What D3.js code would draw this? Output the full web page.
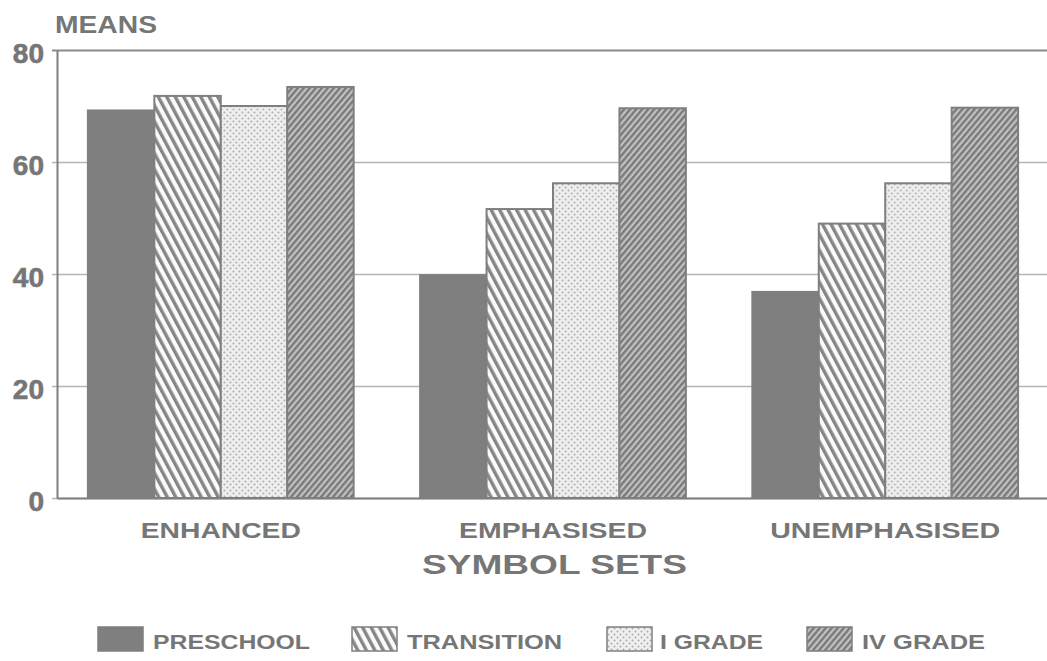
<!DOCTYPE html>
<html>
<head>
<meta charset="utf-8">
<script src="https://cdn.jsdelivr.net/npm/d3@7"></script>
<style>
  html, body { margin: 0; padding: 0; background: #fff; }
  svg { display: block; }
  text { font-family: "Liberation Sans", Arial, Helvetica, sans-serif; font-weight: bold; fill: #767676; }
</style>
</head>
<body>
<svg id="chart" width="1047" height="661"></svg>
<script>
// ---- data ----
const categories = ["ENHANCED", "EMPHASISED", "UNEMPHASISED"];
const series = ["PRESCHOOL", "TRANSITION", "I GRADE", "IV GRADE"];
const preschool  = [69.2, 39.8, 36.8];
const transition = [71.8, 51.6, 49.0];
const iGrade     = [70.0, 56.2, 56.2];
const ivGrade    = [73.4, 69.6, 69.7];
const yTicks = [0, 20, 40, 60, 80];
const yTitle = "MEANS";
const xTitle = "SYMBOL SETS";

const seriesValues = [preschool, transition, iGrade, ivGrade];

// ---- layout ----
const plot = { left: 57, right: 1049, top: 50, bottom: 498 };
const svg = d3.select("#chart");
const ink = "#7f7f7f";

// ---- patterns ----
const defs = svg.append("defs");
const pT = defs.append("pattern").attr("id", "pat-trans")
  .attr("patternUnits", "userSpaceOnUse").attr("width", 7.5).attr("height", 10)
  .attr("patternTransform", "rotate(-28)");
pT.append("rect").attr("width", 7.5).attr("height", 10).attr("fill", "#fafafa");
pT.append("rect").attr("x", 0).attr("width", 3.4).attr("height", 10).attr("fill", "#868686");
const pD = defs.append("pattern").attr("id", "pat-dots")
  .attr("patternUnits", "userSpaceOnUse").attr("width", 6).attr("height", 6);
pD.append("rect").attr("width", 6).attr("height", 6).attr("fill", "#efefef");
pD.append("circle").attr("cx", 1.5).attr("cy", 1.5).attr("r", 0.95).attr("fill", "#a8a8a8");
pD.append("circle").attr("cx", 4.5).attr("cy", 4.5).attr("r", 0.95).attr("fill", "#a8a8a8");
const pI = defs.append("pattern").attr("id", "pat-iv")
  .attr("patternUnits", "userSpaceOnUse").attr("width", 4.6).attr("height", 10)
  .attr("patternTransform", "rotate(40)");
pI.append("rect").attr("width", 4.6).attr("height", 10).attr("fill", "#c2c2c2");
pI.append("rect").attr("x", 0).attr("width", 2.4).attr("height", 10).attr("fill", "#7a7a7a");

const fills = ["#7f7f7f", "url(#pat-trans)", "url(#pat-dots)", "url(#pat-iv)"];

// ---- scales ----
const x0 = d3.scaleBand().domain(categories).range([plot.left, plot.right])
  .paddingInner(0.2).paddingOuter(0.093);
const x1 = d3.scaleBand().domain(series).range([0, x0.bandwidth()]).padding(0);
const y = d3.scaleLinear().domain([0, 80]).range([plot.bottom, plot.top]);

// ---- gridlines ----
const grid = svg.append("g").attr("transform", `translate(${plot.left},0)`)
  .call(d3.axisLeft(y).tickValues(yTicks).tickSize(-(plot.right - plot.left)).tickFormat(""));
grid.select(".domain").remove();
grid.selectAll(".tick line").attr("stroke", "#b5b5b5").attr("stroke-width", 1.6)
  .attr("x1", -5);
grid.selectAll(".tick").filter(d => d === 80).select("line").attr("stroke", "#8a8a8a").attr("stroke-width", 2);

// ---- bars ----
const groups = svg.append("g").selectAll("g").data(categories).join("g")
  .attr("transform", d => `translate(${x0(d)},0)`);
groups.selectAll("rect")
  .data((c, ci) => series.map((s, si) => ({ s, si, v: seriesValues[si][ci] })))
  .join("rect")
  .attr("x", d => x1(d.s))
  .attr("y", d => y(d.v))
  .attr("width", x1.bandwidth())
  .attr("height", d => y(0) - y(d.v))
  .attr("fill", d => fills[d.si])
  .attr("stroke", ink).attr("stroke-width", 2);

// ---- axes ----
const yAxis = svg.append("g").attr("transform", `translate(${plot.left},0)`)
  .call(d3.axisLeft(y).tickValues(yTicks).tickSize(0).tickPadding(13));
yAxis.select(".domain").attr("stroke", ink).attr("stroke-width", 2);
yAxis.selectAll("text").attr("font-size", 28).attr("dy", "0.45em").attr("fill", "#767676")
  .attr("font-family", "Liberation Sans, Arial, sans-serif").attr("font-weight", "normal")
  .attr("stroke", "#767676").attr("stroke-width", 0.6);

const xAxis = svg.append("g").attr("transform", `translate(0,${plot.bottom})`)
  .call(d3.axisBottom(x0).tickSize(0).tickPadding(20).tickSizeOuter(0));
xAxis.select(".domain").attr("stroke", ink).attr("stroke-width", 2);
const catWidths = { "ENHANCED": 160, "EMPHASISED": 188, "UNEMPHASISED": 230 };
xAxis.selectAll("text").attr("font-size", 22).attr("dy", "0.71em").attr("y", 24)
  .attr("fill", "#767676").attr("font-family", "Liberation Sans, Arial, sans-serif")
  .attr("font-weight", "bold")
  .attr("textLength", d => catWidths[d]).attr("lengthAdjust", "spacingAndGlyphs");

// ---- titles ----
svg.append("text").attr("x", 55).attr("y", 33).attr("font-size", 24)
  .attr("textLength", 102).attr("lengthAdjust", "spacingAndGlyphs").text(yTitle);
svg.append("text").attr("x", 422).attr("y", 574).attr("font-size", 27)
  .attr("textLength", 265).attr("lengthAdjust", "spacingAndGlyphs").text(xTitle);

// ---- legend ----
const legendSwatchX = [98, 352, 607, 807];
const legendTextW = [157, 155, 103, 123];
const legend = svg.append("g").selectAll("g").data(series).join("g")
  .attr("transform", (d, i) => `translate(${legendSwatchX[i]},627)`);
legend.append("rect").attr("width", 45).attr("height", 24)
  .attr("fill", (d, i) => fills[i]).attr("stroke", ink).attr("stroke-width", 1.5);
legend.append("text").attr("x", (d, i) => i === 2 ? 53 : 55).attr("y", 22).attr("font-size", 21)
  .attr("textLength", (d, i) => legendTextW[i]).attr("lengthAdjust", "spacingAndGlyphs")
  .text(d => d);
</script>
</body>
</html>
